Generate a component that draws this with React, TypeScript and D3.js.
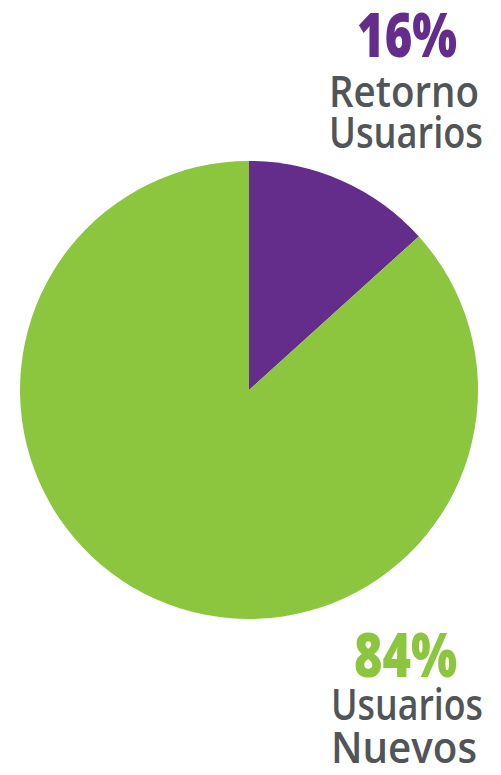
import React from "react";
import * as d3 from "d3";

const categories = ["Retorno Usuarios", "Usuarios Nuevos"];
const sliceValues = [13.3, 86.7];
const percentLabels = ["16%", "84%"];
const labelLines = [["Retorno", "Usuarios"], ["Usuarios", "Nuevos"]];
const colors = ["#652d8b", "#8cc63f"];

const W = 501;
const H = 775;
const cx = 249;
const cy = 390;
const R = 229;
const GRAY = "#515557";

export default function App() {
  const pie = d3.pie<number>().sort(null).startAngle(0).endAngle(2 * Math.PI);
  const arcs = pie(sliceValues);
  const arc = d3.arc<d3.PieArcDatum<number>>().innerRadius(0).outerRadius(R);

  const font = "'Open Sans', sans-serif";
  return (
    <div style={{ position: "absolute", left: 0, top: 0, width: W, height: H }}>
      <svg width={W} height={H} style={{ display: "block" }}>
        <rect width={W} height={H} fill="#fff" />
        <g transform={`translate(${cx},${cy})`}>
          {arcs.map((a, i) => (
            <path key={categories[i]} d={arc(a) || ""} fill={colors[i]} />
          ))}
        </g>
        {/* top label */}
        <text x={357} y={57} fill={colors[0]} fontFamily={font} fontWeight={800} fontSize={62}
          textLength={100} lengthAdjust="spacingAndGlyphs">{percentLabels[0]}</text>
        <text x={329} y={107} fill={GRAY} fontFamily={font} fontWeight={600} fontSize={44}
          textLength={150} lengthAdjust="spacingAndGlyphs">{labelLines[0][0]}</text>
        <text x={329} y={148} fill={GRAY} fontFamily={font} fontWeight={600} fontSize={44}
          textLength={154} lengthAdjust="spacingAndGlyphs">{labelLines[0][1]}</text>
        {/* bottom label */}
        <text x={354} y={677} fill={colors[1]} fontFamily={font} fontWeight={800} fontSize={62}
          textLength={103} lengthAdjust="spacingAndGlyphs">{percentLabels[1]}</text>
        <text x={331} y={720} fill={GRAY} fontFamily={font} fontWeight={600} fontSize={44}
          textLength={152} lengthAdjust="spacingAndGlyphs">{labelLines[1][0]}</text>
        <text x={331} y={763} fill={GRAY} fontFamily={font} fontWeight={600} fontSize={44}
          textLength={146} lengthAdjust="spacingAndGlyphs">{labelLines[1][1]}</text>
      </svg>
    </div>
  );
}
